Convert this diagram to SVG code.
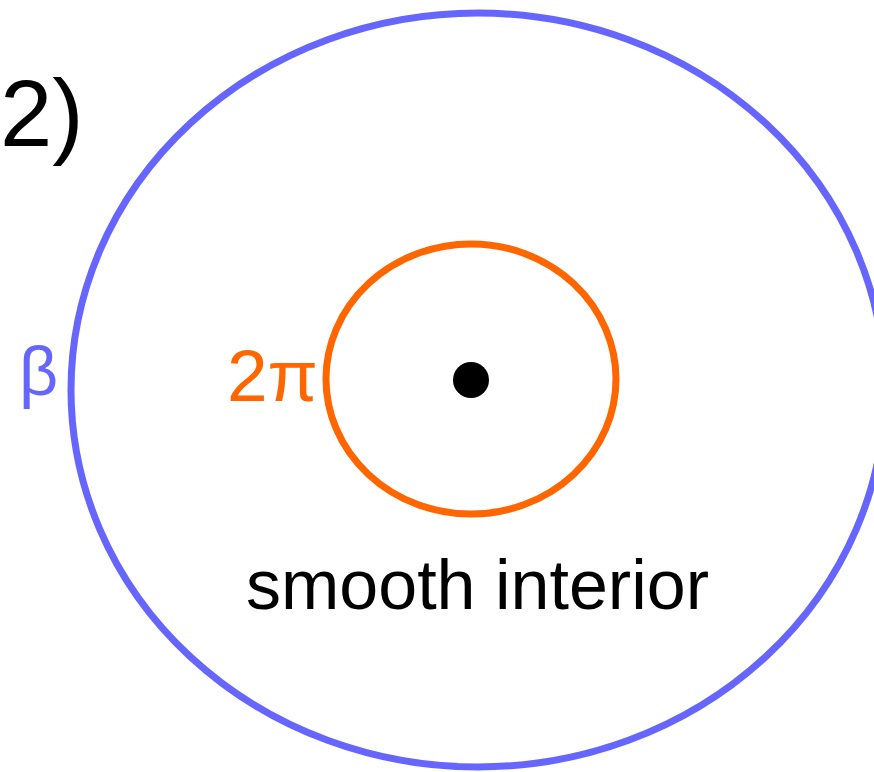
<svg xmlns="http://www.w3.org/2000/svg" width="874" height="772" viewBox="0 0 874 772">
<style>
text{font-family:"Liberation Sans",Arial,sans-serif}
.outer{fill:none;stroke:#6666FF;stroke-width:7}
.inner{fill:none;stroke:#FF6600;stroke-width:7}
</style>
<rect width="874" height="772" fill="#fff"/>
<g id="outer">
<ellipse class="outer" cx="478" cy="390" rx="407" ry="377"/>
</g>
<g id="inner">
<ellipse class="inner" cx="471" cy="379" rx="145" ry="135"/>
</g>
<g id="point">
<circle cx="471" cy="380" r="18" fill="#000"/>
</g>
<g id="connectors"/>
<text x="0" y="146" font-size="94" fill="#000">2)</text>
<text x="19" y="395" font-size="68" fill="#6666FF">β</text>
<text x="227" y="401" font-size="73" fill="#FF6600">2π</text>
<text x="246" y="609" font-size="70" fill="#000">smooth interior</text>
</svg>
